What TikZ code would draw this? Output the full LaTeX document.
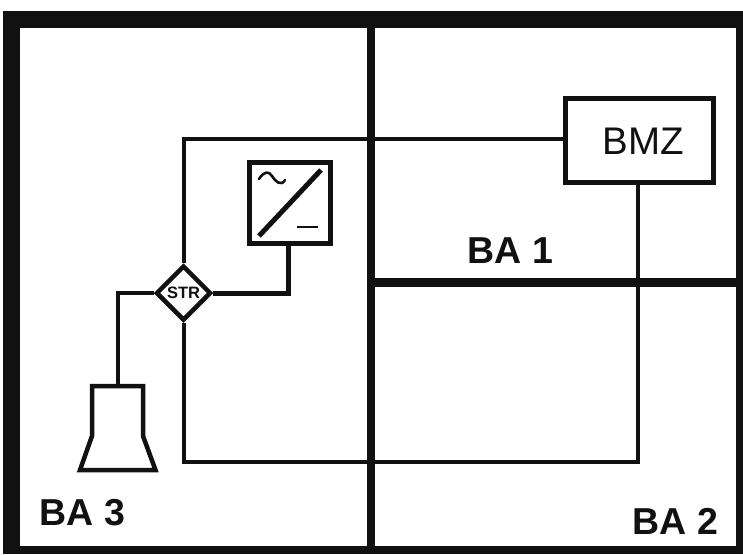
\documentclass[tikz,border=0pt]{standalone}
\usepackage{fontspec}
\setmainfont{Liberation Sans}
\usetikzlibrary{shapes.geometric}
\definecolor{ink}{HTML}{111111}
\tikzset{
  wall/.style={fill=ink,draw=none},
  room/.style={fill=white,draw=none},
  boxa/.style={draw=ink,line width=5,fill=white,rectangle,inner sep=0},
  wire/.style={draw=ink,line width=4,line join=miter},
  wirethick/.style={draw=ink,line width=5,line join=miter},
  strnode/.style={draw=ink,line width=4.5,fill=white,diamond,inner sep=0,minimum width=55,minimum height=55,font=\fontsize{16.5}{18}\selectfont\bfseries,text=ink},
  ba/.style={font=\fontsize{37.5}{40}\selectfont\bfseries,text=ink,anchor=base,inner sep=0},
  bmzlab/.style={font=\fontsize{38.5}{42}\selectfont,text=ink,anchor=base,inner sep=0}
}
\begin{document}
\begin{tikzpicture}[x=1pt,y=-1pt]
\useasboundingbox (0,0) rectangle (743,554);
\fill[white] (0,0) rectangle (743,554);
% walls and rooms
\path[wall] (3,11) rectangle (743,554);
\path[room] (20,28) rectangle (367,546);
\path[room] (375,28) rectangle (736,278);
\path[room] (375,287) rectangle (736,546);
% devices
\node[boxa,minimum width=148,minimum height=84] (bmz) at (639.5,140.5) {};
\node[boxa,minimum width=81,minimum height=81] (conv) at (290,203) {};
\node[strnode] (str) at (183.5,293) {STR};
\coordinate (horntop) at (117.5,386);
% connectors
\draw[wire] (bmz.west |- 0,139) -| (str.north);
\draw[wire] (str.south) |- (384,462) -- (638,462) -- (bmz.south -| 638,0);
\draw[wirethick] (conv.south -| 288,0) |- (str.east);
\draw[wire] (str.west) -| (horntop);
% horn
\draw[draw=ink,line width=4.5,line join=miter,miter limit=10,fill=white]
  (horntop) -- (92,386) -- (92,436) -- (80,470) -- (155.5,470) -- (143,436) -- (143,386) -- cycle;
% converter symbol
\draw[draw=ink,line width=5] (259,236) -- (321,170);
\draw[draw=ink,line width=2.6,line cap=round]
  (259,179) .. controls (264,171) and (269,171) .. (272,176)
  .. controls (275,181) and (281,187) .. (285,180);
\draw[draw=ink,line width=2.5] (297,227) -- (318,227);
% labels
\node[bmzlab] (bmzt) at (643.5,154) {BMZ};
\node[ba] (ba1) at (510.5,263) {BA 1};
\node[ba] (ba2) at (675.5,534) {BA 2};
\node[ba] (ba3) at (82.5,525.5) {BA 3};
\end{tikzpicture}
\end{document}
